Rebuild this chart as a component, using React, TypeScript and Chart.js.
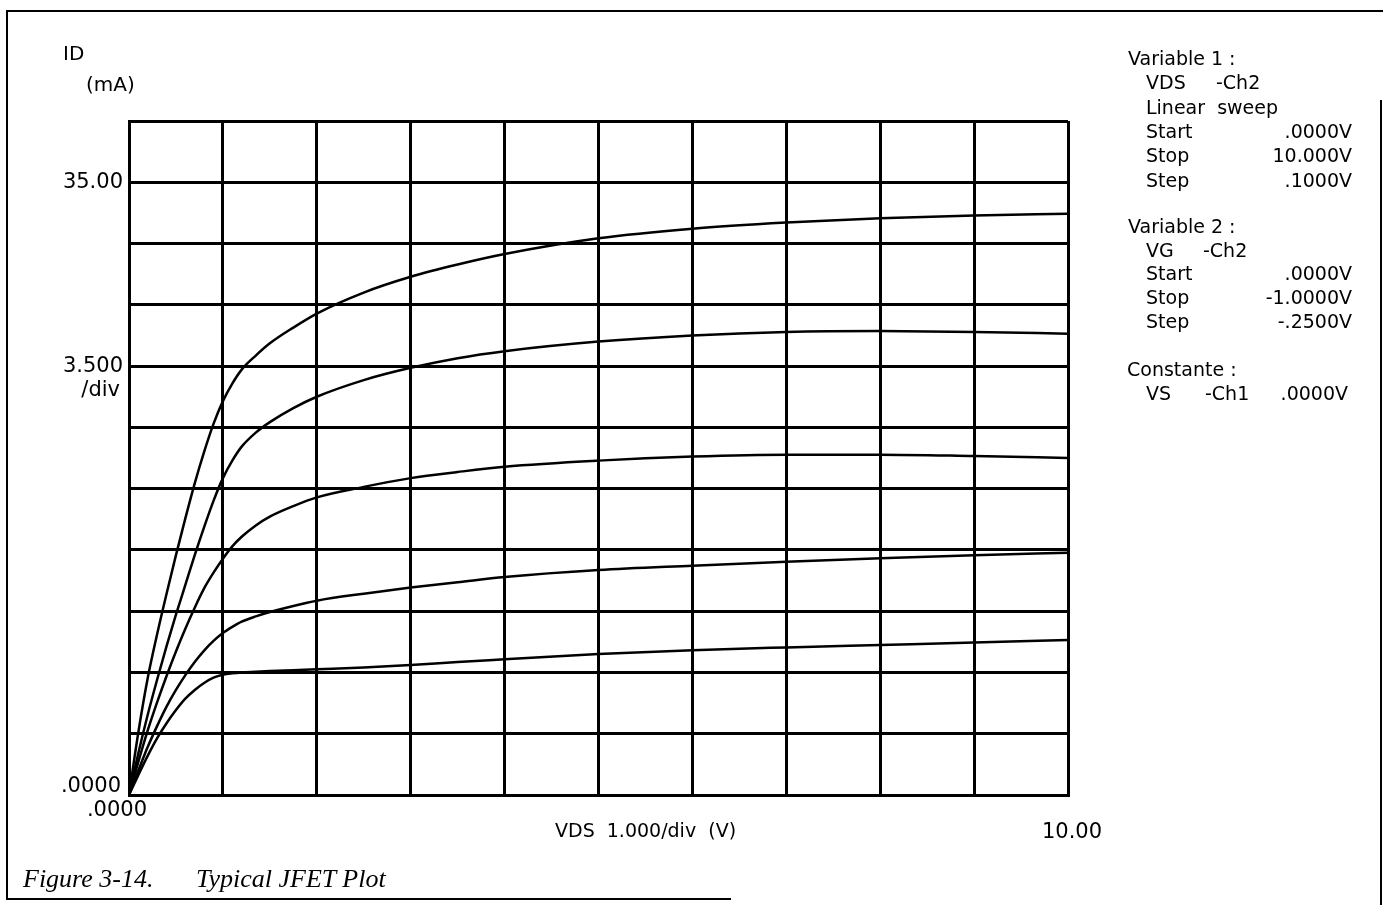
import React, { useEffect, useRef } from "react";
import { Chart, registerables } from "chart.js";

Chart.register(...registerables);

// VDS sweep points (V)
const vds = [0, 0.1, 0.2, 0.3, 0.4, 0.5, 0.6, 0.7, 0.8, 0.9, 1.0, 1.1, 1.2, 1.35, 1.5, 1.75, 2, 2.5, 3, 3.5, 4, 5, 6, 7, 8, 9, 10];
// ID (mA) for each gate voltage
const idVg0 = [0, 3.6, 6.7, 9.2, 11.5, 13.7, 15.8, 17.8, 19.6, 21.2, 22.5, 23.5, 24.3, 25.1, 25.8, 26.7, 27.5, 28.7, 29.6, 30.3, 30.9, 31.8, 32.35, 32.7, 32.95, 33.1, 33.2];
const idVgM025 = [0, 2.4, 4.6, 6.6, 8.5, 10.3, 12.0, 13.7, 15.3, 16.8, 18.1, 19.1, 19.9, 20.7, 21.3, 22.1, 22.75, 23.7, 24.4, 24.95, 25.35, 25.9, 26.25, 26.45, 26.5, 26.45, 26.35];
const idVgM050 = [0, 1.9, 3.7, 5.3, 6.8, 8.2, 9.5, 10.7, 11.8, 12.7, 13.5, 14.2, 14.75, 15.4, 15.9, 16.5, 17.0, 17.6, 18.1, 18.45, 18.75, 19.1, 19.33, 19.44, 19.44, 19.36, 19.25];
const idVgM075 = [0, 1.4, 2.75, 3.95, 5.05, 6.0, 6.85, 7.6, 8.25, 8.8, 9.25, 9.6, 9.9, 10.2, 10.45, 10.8, 11.1, 11.5, 11.85, 12.15, 12.45, 12.85, 13.1, 13.33, 13.53, 13.7, 13.84];
const idVgM100 = [0, 1.15, 2.25, 3.25, 4.1, 4.85, 5.5, 6.0, 6.4, 6.7, 6.87, 6.95, 7.0, 7.04, 7.08, 7.13, 7.18, 7.28, 7.42, 7.6, 7.75, 8.05, 8.27, 8.43, 8.57, 8.71, 8.86];
const seriesList = [idVg0, idVgM025, idVgM050, idVgM075, idVgM100];
const seriesNames = ["VG 0", "VG -0.25", "VG -0.5", "VG -0.75", "VG -1.0"];

// Axis
const yMax = 38.5;
const yStep = 3.5;
const xMax = 10;
const yTickValues = [35, 24.5, 0];
const yTickTexts = [["35.00"], ["3.500", "/div"], [".0000"]];
const xTickValues = [0, 10];
const xTickTexts = [".0000", "10.00"];

const W = 1383;
const H = 910;

const labelPlugin = {
  id: "tickLabels",
  afterDraw(chart: any) {
    const ctx = chart.ctx;
    const ys = chart.scales.y;
    const xs = chart.scales.x;
    const left = chart.chartArea.left;
    const bottom = chart.chartArea.bottom;
    ctx.save();
    ctx.fillStyle = "#000";
    ctx.font = '21px "DejaVu Sans"';
    ctx.textBaseline = "middle";
    ctx.textAlign = "right";
    yTickValues.forEach((v, i) => {
      const py = ys.getPixelForValue(v);
      const lines = yTickTexts[i];
      if (v === 0) {
        ctx.fillText(lines[0], left - 8, py - 8);
      } else if (lines.length === 2) {
        ctx.fillText(lines[0], left - 6, py);
        ctx.fillText(lines[1], left - 9, py + 24);
      } else {
        ctx.fillText(lines[0], left - 6, py);
      }
    });
    ctx.textAlign = "center";
    xTickValues.forEach((v, i) => {
      const px = xs.getPixelForValue(v);
      if (v === 0) ctx.fillText(xTickTexts[i], px - 12, bottom + 16);
      else ctx.fillText(xTickTexts[i], px + 4, bottom + 38);
    });
    ctx.restore();
  },
};

const txt: React.CSSProperties = {
  position: "absolute",
  fontFamily: '"DejaVu Sans", sans-serif',
  fontSize: 19,
  lineHeight: "24px",
  color: "#000",
  whiteSpace: "pre",
};

const cap: React.CSSProperties = {
  position: "absolute",
  top: 863,
  fontFamily: '"Liberation Serif", serif',
  fontStyle: "italic",
  fontSize: 26,
  lineHeight: "32px",
  whiteSpace: "pre",
  color: "#000",
};

function Row({ y, label, value, mid, midX, x = 1146 }: any) {
  return (
    <>
      <div style={{ ...txt, left: x, top: y - 12 }}>{label}</div>
      {mid ? <div style={{ ...txt, left: midX, top: y - 12 }}>{mid}</div> : null}
      {value ? (
        <div style={{ ...txt, right: W - 1352, top: y - 12, textAlign: "right" }}>{value}</div>
      ) : null}
    </>
  );
}

export default function App() {
  const ref = useRef<HTMLCanvasElement | null>(null);
  useEffect(() => {
    if (!ref.current) return;
    const chart = new Chart(ref.current, {
      type: "line",
      data: {
        datasets: seriesList.map((s, i) => ({
          label: seriesNames[i],
          data: vds.map((x, j) => ({ x, y: s[j] })),
          borderColor: "#000",
          borderWidth: 2.5,
          pointRadius: 0,
          fill: false,
          cubicInterpolationMode: "monotone" as const,
        })),
      },
      options: {
        animation: false,
        responsive: false,
        devicePixelRatio: 1,
        layout: { padding: { left: 129, top: 121, right: W - 1068, bottom: H - 795 } },
        plugins: { legend: { display: false }, tooltip: { enabled: false } },
        scales: {
          x: {
            type: "linear",
            min: 0,
            max: xMax,
            ticks: { display: false, stepSize: 1 },
            grid: { color: "#000", lineWidth: 3, drawTicks: false },
            border: { display: true, color: "#000", width: 3 },
          },
          y: {
            type: "linear",
            min: 0,
            max: yMax,
            ticks: { display: false, stepSize: yStep },
            grid: { color: "#000", lineWidth: 3, drawTicks: false },
            border: { display: true, color: "#000", width: 3 },
          },
        },
      },
      plugins: [labelPlugin],
    });
    return () => chart.destroy();
  }, []);

  return (
    <div style={{ position: "fixed", left: 0, top: 0, width: W, height: H, background: "#fff", overflow: "hidden" }}>
      <canvas ref={ref} width={W} height={H} style={{ position: "absolute", left: 0, top: 0, width: W, height: H }} />
      {/* page frame */}
      <div style={{ position: "absolute", left: 6, top: 10, width: W - 6, height: 2, background: "#000" }} />
      <div style={{ position: "absolute", left: 6, top: 10, width: 2, height: 890, background: "#000" }} />
      <div style={{ position: "absolute", left: 6, top: 898, width: 725, height: 2, background: "#000" }} />
      <div style={{ position: "absolute", left: 1380, top: 100, width: 2, height: 805, background: "#000" }} />

      {/* axis titles */}
      <div style={{ ...txt, fontSize: 20, left: 63, top: 41 }}>ID</div>
      <div style={{ ...txt, fontSize: 20, left: 86, top: 72 }}>(mA)</div>
      <div style={{ ...txt, fontSize: 19, left: 555, top: 818 }}>{"VDS  1.000/div  (V)"}</div>

      {/* right info panel */}
      <Row y={58} x={1128} label="Variable 1 :" />
      <Row y={82} label="VDS" mid="-Ch2" midX={1216} />
      <Row y={107} label="Linear  sweep" />
      <Row y={131} label="Start" value=".0000V" />
      <Row y={155} label="Stop" value="10.000V" />
      <Row y={180} label="Step" value=".1000V" />
      <Row y={226} x={1128} label="Variable 2 :" />
      <Row y={250} label="VG" mid="-Ch2" midX={1203} />
      <Row y={273} label="Start" value=".0000V" />
      <Row y={297} label="Stop" value="-1.0000V" />
      <Row y={321} label="Step" value="-.2500V" />
      <Row y={369} x={1127} label="Constante :" />
      <div style={{ ...txt, left: 1146, top: 381 }}>VS</div>
      <div style={{ ...txt, left: 1205, top: 381 }}>-Ch1</div>
      <div style={{ ...txt, right: W - 1348, top: 381 }}>.0000V</div>

      {/* caption */}
      <div style={{ ...cap, left: 23 }}>Figure 3-14.</div>
      <div style={{ ...cap, left: 196 }}>Typical JFET Plot</div>
    </div>
  );
}
